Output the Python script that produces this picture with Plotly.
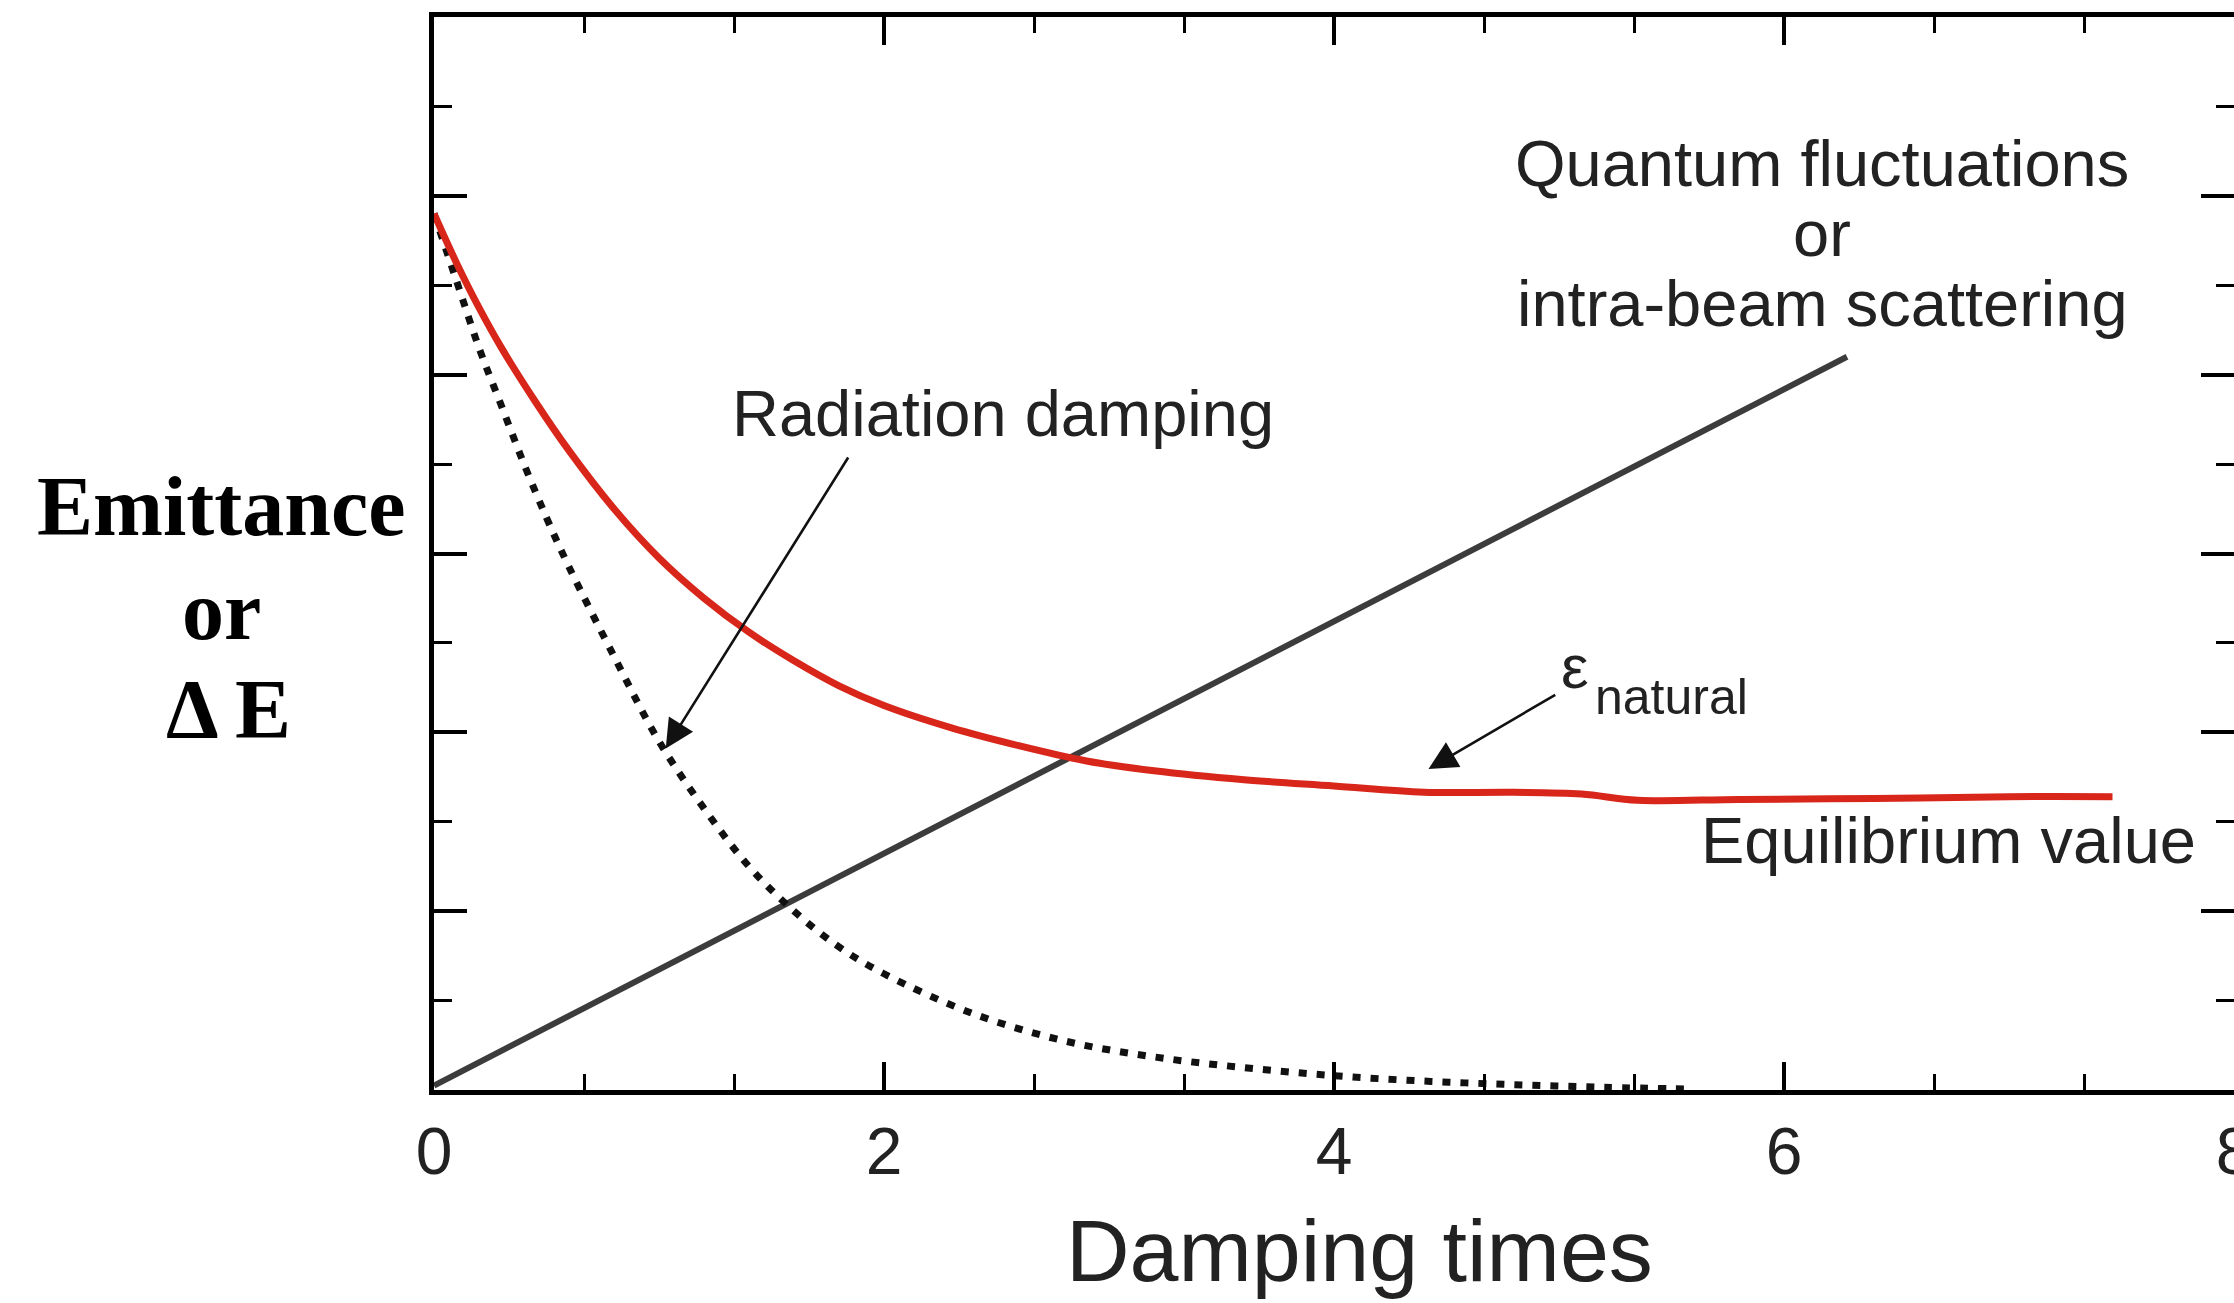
import plotly.graph_objects as go

# ---------------- data ----------------
emit_x = [0, 0.1, 0.2, 0.3, 0.45, 0.6, 0.8, 1.0, 1.2, 1.4, 1.6, 1.8, 2.0, 2.3, 2.6,
          2.9, 3.2, 3.6, 4.0, 4.4, 4.8, 5.1, 5.35, 5.8, 6.4, 7.0, 7.46]
emit_y = [9.8, 9.25, 8.75, 8.3, 7.7, 7.15, 6.5, 5.95, 5.5, 5.12, 4.8, 4.52, 4.3, 4.05, 3.85,
          3.68, 3.57, 3.47, 3.40, 3.33, 3.33, 3.31, 3.24, 3.25, 3.26, 3.28, 3.28]

damp_x = [0, 0.1, 0.2, 0.3, 0.4, 0.5, 0.6, 0.8, 1.0, 1.2, 1.4, 1.6, 1.8, 2.0, 2.4, 2.8,
          3.2, 3.6, 4.0, 4.4, 4.8, 5.2, 5.6]
damp_y = [9.8, 9.05, 8.3, 7.65, 7.0, 6.4, 5.85, 4.85, 3.9, 3.15, 2.5, 2.0, 1.6, 1.3, 0.85, 0.55,
          0.37, 0.25, 0.16, 0.1, 0.06, 0.03, 0.01]

quantum_x = [0, 6.28]
quantum_y = [0.05, 8.2]

x_tick_vals = [0, 2, 4, 6, 8]
x_tick_text = ["0", "2", "4", "6", "8"]

SANS = "Liberation Sans, Arial, Helvetica, sans-serif"
SERIF = "Liberation Serif, Times New Roman, serif"
TXT = "#222222"

fig = go.Figure()

fig.add_trace(go.Scatter(x=quantum_x, y=quantum_y, mode="lines",
                         line=dict(color="#3c3c3c", width=6), showlegend=False))
fig.add_trace(go.Scatter(x=damp_x, y=damp_y, mode="lines", line_shape="spline",
                         line=dict(color="#111111", width=7, dash="8px,10px"), showlegend=False))
fig.add_trace(go.Scatter(x=emit_x, y=emit_y, mode="lines", line_shape="spline",
                         line=dict(color="#d8261a", width=7), showlegend=False))
# invisible trace to anchor the right-hand tick axis
fig.add_trace(go.Scatter(x=[0], y=[0], yaxis="y2", mode="markers",
                         marker=dict(opacity=0), showlegend=False, hoverinfo="skip"))

ann = []
def txt(x, y, s, size=65, ref="data", font=SANS, color=TXT, xanchor="center"):
    d = dict(x=x, y=y, text=s, showarrow=False, xanchor=xanchor, yanchor="middle",
             font=dict(family=font, size=size, color=color))
    if ref == "paper":
        d.update(xref="paper", yref="paper")
    else:
        d.update(xref="x", yref="y")
    ann.append(d)

txt(6.17, 10.36, "Quantum fluctuations")
txt(6.17, 9.58, "or")
txt(6.17, 8.80, "intra-beam scattering")
txt(2.53, 7.57, "Radiation damping")
txt(5.07, 4.74, "ε", size=62)
txt(5.50, 4.40, "natural", size=50)
txt(6.73, 2.79, "Equilibrium value")

txt(-0.118, 0.544, "<b>Emittance</b>", size=84, ref="paper", font=SERIF, color="#000")
txt(-0.118, 0.447, "<b>or</b>", size=84, ref="paper", font=SERIF, color="#000")
txt(-0.114, 0.355, "<b>Δ E</b>", size=84, ref="paper", font=SERIF, color="#000")
txt(0.514, -0.150, "Damping times", size=88, ref="paper")

for hx, hy, tx, ty in [(1.03, 3.82, 1.845, 7.09), (4.42, 3.59, 4.99, 4.43)]:
    ann.append(dict(x=hx, y=hy, ax=tx, ay=ty, xref="x", yref="y", axref="x", ayref="y",
                    text="", showarrow=True, arrowhead=2, arrowsize=2.2, arrowwidth=2.6,
                    arrowcolor="#111", standoff=0, startstandoff=0))

fig.update_layout(
    width=2234, height=1303,
    margin=dict(l=434, r=0, t=17, b=213, autoexpand=False),
    paper_bgcolor="white", plot_bgcolor="white",
    template="none",
    annotations=ann,
    xaxis=dict(range=[0, 8], tickvals=x_tick_vals, ticktext=x_tick_text,
               ticks="inside", ticklen=28, tickwidth=4, tickcolor="#000",
               minor=dict(dtick=2/3, tick0=0, ticks="inside", ticklen=16, tickwidth=3,
                          tickcolor="#000", showgrid=False),
               showline=True, linewidth=5, linecolor="#000", mirror="ticks",
               showgrid=False, zeroline=False, automargin=False,
               ticklabeloverflow="allow",
               tickfont=dict(family=SANS, size=66, color=TXT), ticklabelstandoff=0),
    yaxis=dict(range=[0, 12], dtick=2, tick0=0, ticks="inside", ticklen=33, tickwidth=4,
               tickcolor="#000",
               minor=dict(dtick=1, tick0=0, ticks="inside", ticklen=18, tickwidth=3,
                          tickcolor="#000", showgrid=False),
               showline=True, linewidth=5, linecolor="#000", mirror=False,
               showticklabels=False, showgrid=False, zeroline=False, automargin=False),
    yaxis2=dict(range=[0, 12], overlaying="y", side="right", dtick=2, tick0=0,
                ticks="inside", ticklen=33, tickwidth=4, tickcolor="#000",
                minor=dict(dtick=1, tick0=0, ticks="inside", ticklen=18, tickwidth=3,
                           tickcolor="#000", showgrid=False),
                showline=False, showticklabels=False, showgrid=False, zeroline=False,
                automargin=False),
)

fig.write_html("out.html")
